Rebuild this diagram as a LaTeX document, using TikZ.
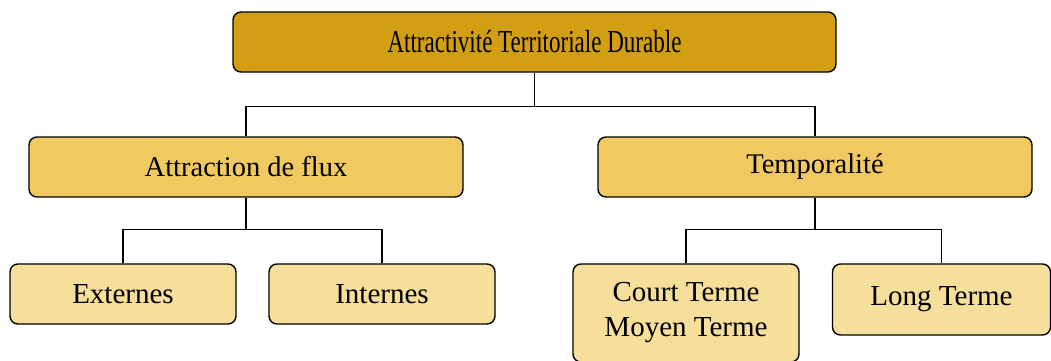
\documentclass[tikz,border=0pt]{standalone}
\usepackage{fontspec}
\setmainfont{Liberation Serif}
\newfontfamily\titlefont{Liberation Serif}[FakeStretch=0.72]
\definecolor{darkgold}{RGB}{210,158,20}
\definecolor{midgold}{RGB}{240,202,96}
\definecolor{palegold}{RGB}{246,222,155}

\tikzstyle{d} = [rectangle, draw, fill=darkgold, text centered, rounded corners=8pt, line width=1.4pt, minimum width=603pt, minimum height=60pt, font=\titlefont\fontsize{32}{36}\selectfont]
\tikzstyle{m} = [rectangle, draw, fill=midgold, text centered, rounded corners=8pt, line width=1.4pt, minimum width=434pt, minimum height=60pt, font=\fontsize{28.5}{33}\selectfont]
\tikzstyle{p} = [rectangle, draw, fill=palegold, align=center, rounded corners=8pt, line width=1.4pt, minimum width=226pt, minimum height=60pt, font=\fontsize{29}{35}\selectfont]
\tikzstyle{w} = [line width=1.4pt]

\begin{document}
\begin{tikzpicture}[x=1pt, y=-1pt]
	\useasboundingbox (0,0) rectangle (1051,361);

	\node [d] (atd) at (534.5,42) {Attractivité Territoriale Durable};
	\node [m] (flux) at (246,167) {Attraction de flux};
	\node [m] (temp) at (815,167) {Temporalité};
	\node [p] (ext) at (123,294) {Externes};
	\node [p] (int) at (382,294) {Internes};
	\node [p, minimum height=98pt] (cmt) at (686,313) {Court Terme\\Moyen Terme};
	\node [p, minimum width=218pt, minimum height=71pt] (lt) at (941.5,299.5) {Long Terme};

	\draw [w] (atd.south) -- ++(0,34) -| (flux.north);
	\draw [w] (atd.south) -- ++(0,34) -| (temp.north);
	\draw [w] (flux.south) -- ++(0,32) -| (ext.north);
	\draw [w] (flux.south) -- ++(0,32) -| (int.north);
	\draw [w] (temp.south) -- ++(0,32) -| (cmt.north);
	\draw [w] (temp.south) -- ++(0,32) -| (lt.north);

\end{tikzpicture}
\end{document}
